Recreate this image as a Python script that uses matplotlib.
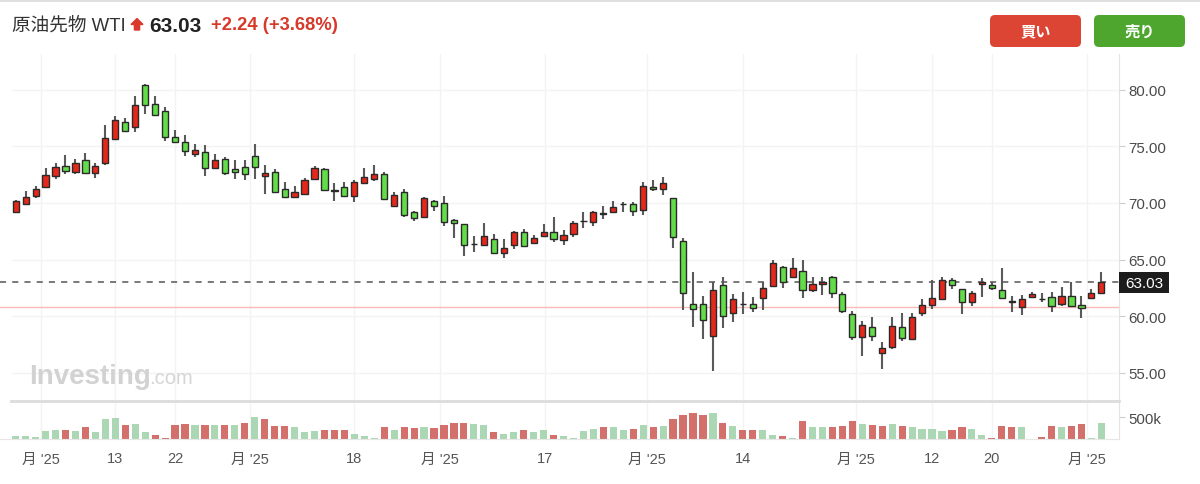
import numpy as np
import matplotlib
matplotlib.use("Agg")
import matplotlib.pyplot as plt
from matplotlib.patches import FancyBboxPatch, Rectangle, Polygon
from matplotlib.lines import Line2D

plt.rcParams['font.family'] = ['Liberation Sans', 'Noto Sans CJK JP', 'DejaVu Sans']

# ---------------- data ----------------
opens = [69.23, 69.94, 70.65, 71.39, 72.41, 73.29, 72.76, 73.82, 72.62, 73.56,
         75.65, 77.18, 76.73, 80.41, 78.74, 78.12, 75.85, 75.36, 74.30, 74.53,
         73.12, 73.91, 73.00, 73.18, 74.12, 72.36, 72.76, 71.21, 70.56, 70.77,
         72.12, 73.00, 71.12, 71.39, 70.64, 71.74, 72.12, 72.56, 69.76, 70.94,
         69.18, 68.79, 70.20, 70.00, 68.47, 68.12, 66.36, 66.32, 66.82, 65.59,
         66.32, 67.41, 66.47, 67.06, 67.41, 66.76, 67.26, 68.41, 68.30, 69.03,
         69.18, 69.91, 69.91, 69.41, 71.44, 71.20, 70.41, 66.67, 61.09, 61.09,
         58.29, 62.76, 60.26, 61.09, 61.11, 61.59, 62.65, 64.32, 63.44, 64.02,
         62.35, 62.88, 63.50, 61.94, 60.18, 58.20, 59.06, 56.76, 57.26, 59.03,
         58.00, 60.29, 61.00, 61.53, 63.23, 62.41, 61.24, 62.85, 62.76, 62.35,
         61.30, 60.79, 61.73, 61.53, 61.73, 61.06, 61.82, 61.00, 61.59, 62.06]
highs = [70.30, 71.03, 71.53, 73.10, 73.50, 74.20, 73.86, 74.44, 73.56, 76.91,
         77.65, 77.53, 79.42, 80.53, 79.42, 78.45, 76.47, 75.97, 75.23, 75.12,
         74.30, 74.09, 73.82, 73.82, 75.18, 73.38, 73.00, 71.83, 71.47, 72.18,
         73.24, 73.09, 71.75, 71.83, 72.06, 73.09, 73.35, 72.76, 70.94, 71.24,
         69.32, 70.50, 70.26, 70.64, 68.59, 68.15, 67.11, 68.23, 67.26, 66.82,
         67.56, 67.70, 67.18, 68.15, 68.74, 67.62, 68.44, 69.18, 69.32, 69.71,
         70.20, 70.05, 70.10, 71.83, 72.06, 72.27, 70.41, 66.91, 63.88, 61.82,
         63.05, 63.44, 61.94, 62.17, 61.68, 63.05, 65.00, 64.47, 65.12, 64.97,
         63.44, 63.44, 63.58, 62.17, 60.49, 59.61, 59.91, 57.71, 59.91, 60.29,
         60.29, 61.53, 63.20, 63.44, 63.35, 62.45, 62.26, 63.35, 63.05, 64.24,
         61.77, 61.91, 62.15, 62.06, 62.15, 62.56, 63.03, 61.77, 62.41, 63.94]
lows = [69.10, 69.82, 70.47, 71.30, 72.10, 72.60, 72.53, 72.53, 72.21, 73.35,
        75.56, 76.24, 76.24, 77.86, 77.70, 75.50, 75.30, 74.17, 74.06, 72.41,
        73.00, 72.47, 72.12, 72.03, 72.12, 70.77, 70.94, 70.50, 70.50, 70.70,
        72.05, 71.09, 70.20, 70.56, 70.11, 71.70, 71.91, 70.26, 69.71, 68.74,
        68.38, 68.74, 69.27, 67.94, 66.88, 65.30, 65.65, 66.23, 65.50, 65.12,
        65.94, 66.20, 66.40, 66.97, 66.59, 66.29, 67.00, 67.77, 67.94, 68.59,
        69.10, 69.23, 68.88, 68.94, 71.10, 70.70, 66.03, 60.58, 59.03, 58.00,
        55.20, 58.94, 59.47, 60.20, 60.41, 60.56, 62.60, 62.47, 63.44, 61.59,
        62.12, 61.88, 61.60, 60.26, 57.93, 56.52, 57.85, 55.35, 57.10, 57.85,
        57.95, 60.05, 60.64, 61.50, 62.41, 60.20, 60.88, 61.73, 62.29, 61.56,
        60.35, 60.14, 61.70, 61.24, 60.35, 60.94, 60.79, 59.82, 61.59, 62.00]
closes = [70.18, 70.53, 71.24, 72.47, 73.18, 72.85, 73.56, 72.62, 73.27, 75.76,
          77.33, 76.35, 78.65, 78.65, 77.79, 75.80, 75.41, 74.62, 74.65, 73.12,
          73.80, 72.62, 72.76, 72.56, 73.15, 72.65, 71.00, 70.56, 71.00, 72.06,
          73.06, 71.17, 71.10, 70.64, 71.83, 72.27, 72.56, 70.35, 70.70, 68.94,
          68.65, 70.41, 69.76, 68.35, 68.23, 66.32, 66.40, 67.11, 65.59, 66.00,
          67.41, 66.23, 66.88, 67.41, 66.82, 67.18, 68.23, 68.41, 69.20, 69.15,
          69.65, 69.91, 69.32, 71.53, 71.21, 71.75, 66.97, 62.06, 60.64, 59.67,
          62.35, 60.05, 61.53, 61.09, 60.76, 62.47, 64.70, 63.05, 64.29, 62.35,
          62.85, 63.05, 62.03, 60.49, 58.20, 59.26, 58.29, 57.20, 59.17, 58.06,
          59.96, 61.00, 61.62, 63.23, 62.76, 61.24, 62.06, 63.00, 62.52, 61.59,
          61.30, 61.53, 61.97, 61.53, 60.88, 61.82, 60.94, 60.76, 62.03, 63.03]
volumes_k = [71, 71, 47, 182, 213, 213, 182, 277, 158, 458,
             490, 324, 348, 158, 103, 16, 324, 348, 324, 324,
             324, 324, 324, 379, 514, 458, 300, 300, 269, 158,
             190, 213, 213, 213, 126, 71, 16, 269, 213, 269,
             245, 269, 245, 324, 379, 379, 348, 324, 158, 126,
             158, 213, 158, 213, 103, 71, 16, 182, 237, 269,
             269, 213, 237, 324, 269, 292, 458, 569, 600, 569,
             600, 379, 292, 213, 213, 213, 103, 71, 16, 419,
             269, 269, 269, 292, 419, 348, 324, 292, 348, 292,
             269, 237, 237, 182, 213, 269, 237, 103, 16, 292,
             269, 269, 0, 47, 292, 269, 292, 348, 16, 379]
price_ticks = [55, 60, 65, 70, 75, 80]
vol_ticks_k = [500]
date_tick_pos = [2.5, 10, 16, 23.5, 34, 42.6, 53.1, 63.4, 73, 84.4, 92, 98, 107.6]
date_tick_labels = ["月 '25", "13", "22", "月 '25", "18", "月 '25", "17",
                    "月 '25", "14", "月 '25", "12", "20", "月 '25"]
last_price = 63.03
prev_close = 60.79
title_name = "原油先物 WTI"
title_price = "63.03"
title_change = "+2.24 (+3.68%)"

# ---------------- figure ----------------
W, H = 1200, 485
fig = plt.figure(figsize=(W / 100, H / 100), dpi=100)
fig.patch.set_facecolor('white')

o = np.array(opens); h = np.array(highs); l = np.array(lows); c = np.array(closes)
n = len(c)
x = np.arange(n)
XL = (-1.576, 110.77)

RED = '#e5281c'
GREEN = '#62dc48'
GRID = '#f3f3f3'

# price pane: pixel rows 55..401, columns 0..1119
ax = fig.add_axes([0, 1 - 401 / H, 1119 / W, 346 / H])
ax.set_xlim(*XL)
ax.set_ylim(52.61, 83.15)
for s in ['top', 'left', 'bottom']:
    ax.spines[s].set_visible(False)
ax.spines['right'].set_color('#e3e3e3')
ax.set_xticks([])
ax.yaxis.tick_right()
ax.set_yticks(price_ticks)
ax.set_yticklabels([f"{v:.2f}" for v in price_ticks])
ax.tick_params(axis='y', length=4, color='#cccccc', labelcolor='#4a4a4a',
               labelsize=10.8, pad=3)
for v in price_ticks:
    ax.axhline(v, xmin=12 / 1119, color=GRID, lw=1, zorder=0)
for p in date_tick_pos:
    ax.axvline(p, color=GRID, lw=1, zorder=0)

ax.axhline(prev_close, color='#f8bdb8', lw=1, zorder=1)
ax.axhline(last_price, color='#555555', lw=1.1, ls=(0, (4, 4)), zorder=1)

ax.vlines(x, l, h, color='#5a5a5a', lw=1.5, zorder=2)
body_bottom = np.minimum(o, c)
body_h = np.maximum(np.abs(c - o), 0.03)
body_col = [RED if cc > oo else (GREEN if cc < oo else '#444444') for oo, cc in zip(o, c)]
ax.bar(x, body_h, width=0.62, bottom=body_bottom, color=body_col,
       edgecolor='#2a2a2a', linewidth=1, zorder=3)

# volume pane: pixel rows 403..440
axv = fig.add_axes([0, 1 - 440 / H, 1119 / W, 37 / H])
axv.set_xlim(*XL)
axv.set_ylim(0, 860)
for s in ['top', 'left']:
    axv.spines[s].set_visible(False)
axv.spines['right'].set_color('#e3e3e3')
axv.spines['bottom'].set_color('#e6e6e6')
vol_up = np.concatenate([[True], np.diff(c) >= 0])
vcol = np.where(vol_up, '#acd7b4', '#d3706b')
axv.bar(x, volumes_k, width=0.72, color=vcol, zorder=2)
for p in date_tick_pos:
    axv.axvline(p, color=GRID, lw=1, zorder=0)
axv.yaxis.tick_right()
axv.set_yticks(vol_ticks_k)
axv.set_yticklabels([f"{v}k" for v in vol_ticks_k])
axv.tick_params(axis='y', length=4, color='#cccccc', labelcolor='#4a4a4a',
                labelsize=10.8, pad=3)
axv.set_xticks(date_tick_pos)
axv.set_xticklabels(date_tick_labels)
axv.tick_params(axis='x', length=0, labelcolor='#555555', labelsize=10.5, pad=9)

# overlay in pixel coordinates
ov = fig.add_axes([0, 0, 1, 1], zorder=10)
ov.set_xlim(0, W)
ov.set_ylim(H, 0)
ov.axis('off')
ov.patch.set_alpha(0)

ov.add_line(Line2D([0, W], [1, 1], color='#dedede', lw=2))
ov.add_line(Line2D([11, 1119], [402, 402], color='#dcdcdc', lw=2))

ov.text(12, 26, title_name, fontsize=13.4, color='#333333', va='center', ha='left')
ov.add_patch(Polygon([(137, 19.5), (143, 25.5), (139.6, 25.5), (139.6, 31),
                      (134.4, 31), (134.4, 25.5), (131, 25.5)],
                     closed=True, color='#d93a2b'))
ov.text(149, 26, title_price, fontsize=15, weight='bold', color='#222222',
        va='center', ha='left')
ov.text(211, 26, title_change, fontsize=13.2, weight='bold', color='#d63a2b',
        va='center', ha='left')

ov.add_patch(FancyBboxPatch((990, 16), 91, 32, boxstyle="round,pad=0,rounding_size=5",
                            facecolor='#dc4433', edgecolor='none'))
ov.text(1035.5, 32.5, "買い", fontsize=11, weight='bold', color='white',
        ha='center', va='center')
ov.add_patch(FancyBboxPatch((1094, 16), 91, 32, boxstyle="round,pad=0,rounding_size=5",
                            facecolor='#4ea62f', edgecolor='none'))
ov.text(1139.5, 32.5, "売り", fontsize=11, weight='bold', color='white',
        ha='center', va='center')

ov.add_patch(Rectangle((1119, 273), 50, 21, facecolor='#1c1c1c', edgecolor='none'))
ov.text(1144, 283.8, f"{last_price:.2f}", fontsize=11, color='white',
        ha='center', va='center')

ov.text(29, 384, "Investing", fontsize=20, weight='bold', color='#d2d2d2',
        ha='left', va='baseline')
ov.text(149, 384, ".com", fontsize=14.5, color='#d6d6d6', ha='left', va='baseline')

fig.savefig("out.png", dpi=100, facecolor='white')
